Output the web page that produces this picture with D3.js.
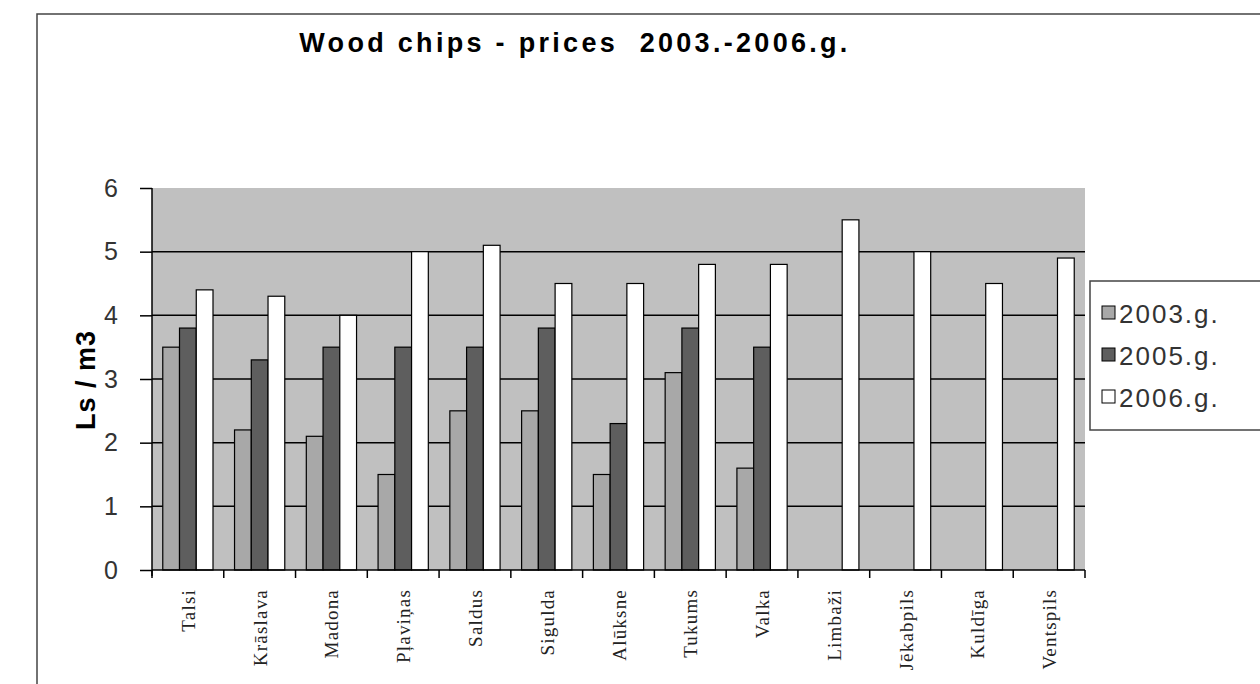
<!DOCTYPE html>
<html>
<head>
<meta charset="utf-8">
<script src="https://cdn.jsdelivr.net/npm/d3@7"></script>
<style>
  body { margin: 0; background: #fff; }
  svg { display: block; }
</style>
</head>
<body>
<svg id="chart" width="1260" height="684"></svg>
<script>
// 데이터
const towns = ["Talsi", "Krāslava", "Madona", "Pļaviņas", "Saldus", "Sigulda", "Alūksne",
               "Tukums", "Valka", "Limbaži", "Jēkabpils", "Kuldīga", "Ventspils"];
const years = ["2003.g.", "2005.g.", "2006.g."];
const v2003 = [3.5, 2.2, 2.1, 1.5, 2.5, 2.5, 1.5, 3.1, 1.6, null, null, null, null];
const v2005 = [3.8, 3.3, 3.5, 3.5, 3.5, 3.8, 2.3, 3.8, 3.5, null, null, null, null];
const v2006 = [4.4, 4.3, 4.0, 5.0, 5.1, 4.5, 4.5, 4.8, 4.8, 5.5, 5.0, 4.5, 4.9];
const yTicks = [0, 1, 2, 3, 4, 5, 6];

const FILL = ["#a8a8a8", "#5e5e5e", "#ffffff"];

const svg = d3.select("#chart");
const plot = { left: 152, right: 1085, top: 188, bottom: 570 };

// 외곽 테두리
svg.append("path")
  .attr("d", "M37,684 L37,14 L1260,14")
  .attr("fill", "none").attr("stroke", "#444").attr("stroke-width", 1.5);

// 제목
svg.append("text")
  .attr("x", 575).attr("y", 52)
  .attr("text-anchor", "middle")
  .style("white-space", "pre")
  .attr("font-family", "Arial, 'Liberation Sans', sans-serif")
  .attr("font-weight", "bold").attr("font-size", 27)
  .attr("letter-spacing", 3.3)
  .text("Wood chips - prices  2003.-2006.g.");

const x = d3.scaleBand().domain(towns).range([plot.left, plot.right]).paddingInner(0.3).paddingOuter(0.15);
const xg = d3.scaleBand().domain(years).range([0, x.bandwidth()]);
const y = d3.scaleLinear().domain([0, 6]).range([plot.bottom, plot.top]);

// 배경
svg.append("rect")
  .attr("x", plot.left).attr("y", plot.top)
  .attr("width", plot.right - plot.left).attr("height", plot.bottom - plot.top)
  .attr("fill", "#c0c0c0");

// 격자선
svg.append("g").selectAll("line")
  .data(yTicks.slice(1, -1))
  .join("line")
  .attr("x1", plot.left).attr("x2", plot.right)
  .attr("y1", d => y(d)).attr("y2", d => y(d))
  .attr("stroke", "#000").attr("stroke-width", 1.5);

// 막대
const series = [v2003, v2005, v2006];
series.forEach((vals, si) => {
  svg.append("g").selectAll("rect")
    .data(towns.map((t, i) => ({ t, v: vals[i] })).filter(d => d.v != null))
    .join("rect")
    .attr("x", d => x(d.t) + xg(years[si]))
    .attr("y", d => y(d.v))
    .attr("width", xg.bandwidth())
    .attr("height", d => y(0) - y(d.v))
    .attr("fill", FILL[si])
    .attr("stroke", "#000").attr("stroke-width", 1.2);
});

// Y축
const yAxis = svg.append("g")
  .attr("transform", `translate(${plot.left},0)`)
  .call(d3.axisLeft(y).tickValues(yTicks).tickFormat(d3.format("d")).tickSize(12).tickPadding(22));
yAxis.select(".domain").attr("stroke", "#000").attr("stroke-width", 1.5)
  .attr("d", `M0,${plot.top}V${plot.bottom + 6}`);
yAxis.selectAll(".tick line").attr("stroke", "#000").attr("stroke-width", 1.5);
yAxis.selectAll(".tick text")
  .attr("font-family", "Arial, 'Liberation Sans', sans-serif")
  .attr("font-size", 25).attr("fill", "#333");

// X축 (눈금은 범주 경계)
const xAxis = svg.append("g").attr("transform", `translate(0,${plot.bottom})`);
xAxis.append("line")
  .attr("x1", plot.left).attr("x2", plot.right)
  .attr("stroke", "#000").attr("stroke-width", 1.5);
const step = x.step();
const bounds = towns.map(t => x(t) - (step - x.bandwidth()) / 2).concat([plot.right]);
xAxis.selectAll(".xt").data(bounds).join("line")
  .attr("class", "xt")
  .attr("x1", d => d).attr("x2", d => d)
  .attr("y1", 0).attr("y2", 8)
  .attr("stroke", "#000").attr("stroke-width", 1.5);
xAxis.selectAll(".xl").data(towns).join("text")
  .attr("class", "xl")
  .attr("transform", d => `translate(${x(d) + x.bandwidth() / 2 + 7},19) rotate(-90)`)
  .attr("text-anchor", "end")
  .attr("font-family", "'Liberation Serif', 'DejaVu Serif', serif")
  .attr("font-size", 19).attr("letter-spacing", 1.2).attr("fill", "#222")
  .text(d => d);

// Y축 제목
svg.append("text")
  .attr("transform", "translate(95,380) rotate(-90)")
  .attr("text-anchor", "middle")
  .attr("font-family", "Arial, 'Liberation Sans', sans-serif")
  .attr("font-weight", "bold").attr("font-size", 27)
  .attr("letter-spacing", 1)
  .text("Ls / m3");

// 범례
const lg = svg.append("g").attr("transform", "translate(1090,281)");
lg.append("rect")
  .attr("width", 180).attr("height", 149)
  .attr("fill", "#fff").attr("stroke", "#444").attr("stroke-width", 1.5);
years.forEach((yr, i) => {
  const row = lg.append("g").attr("transform", `translate(0,${42 + i * 42})`);
  row.append("rect")
    .attr("x", 12).attr("y", -17).attr("width", 13).attr("height", 13)
    .attr("fill", FILL[i]).attr("stroke", "#000").attr("stroke-width", 1);
  row.append("text")
    .attr("x", 29).attr("y", 0)
    .attr("font-family", "Arial, 'Liberation Sans', sans-serif")
    .attr("font-size", 26).attr("letter-spacing", 2).attr("fill", "#333")
    .text(yr);
});
</script>
</body>
</html>
